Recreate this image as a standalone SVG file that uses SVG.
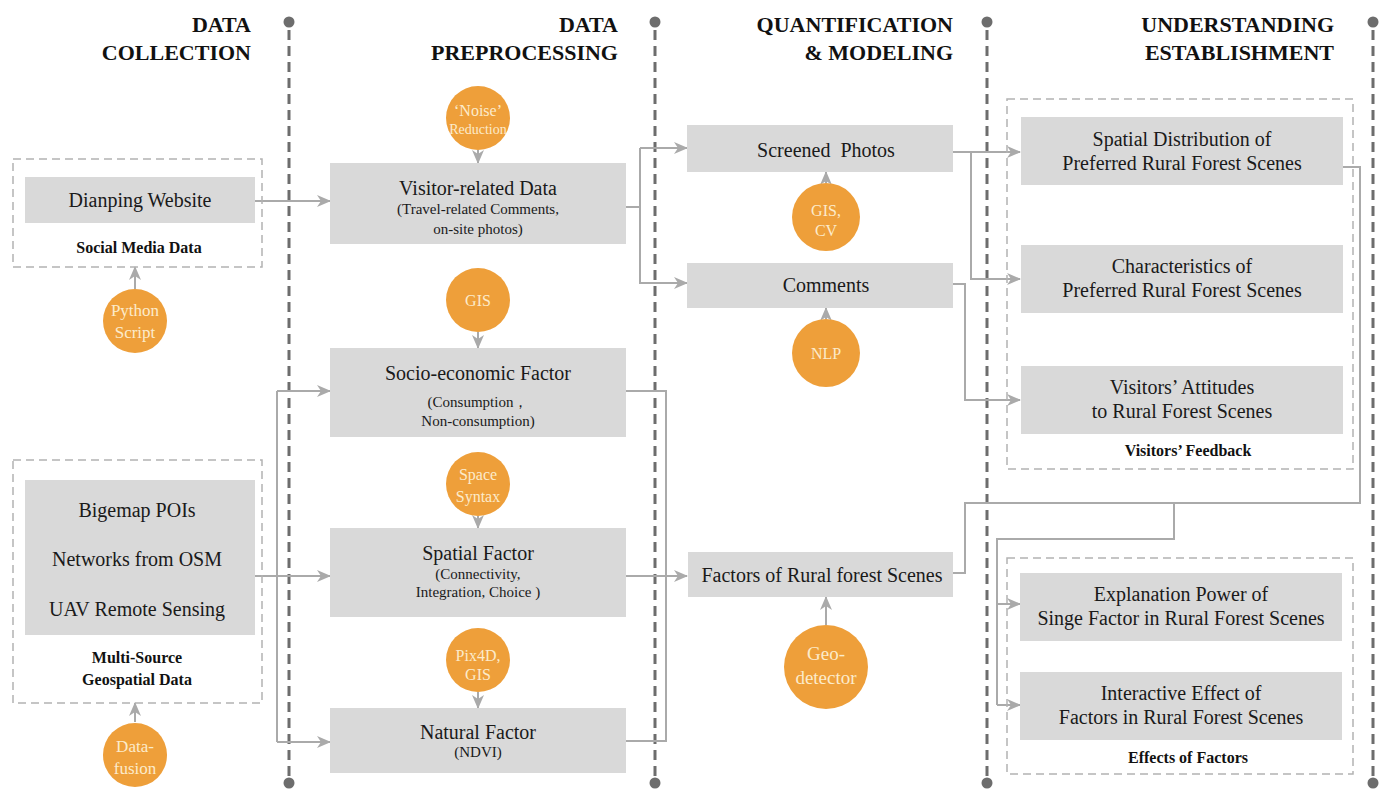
<svg xmlns="http://www.w3.org/2000/svg" width="1389" height="789" viewBox="0 0 1389 789" font-family="'Liberation Serif', 'Times New Roman', serif">
<style>
text{font-family:'Liberation Serif','Times New Roman',serif}
.hd{font-weight:bold;font-size:22px;fill:#111;text-anchor:end}
.bx{fill:#d9d9d9}
.t{font-size:20px;fill:#1a1a1a;text-anchor:middle}
.s{font-size:15px;fill:#1a1a1a;text-anchor:middle}
.b{font-size:16px;font-weight:bold;fill:#111;text-anchor:middle}
.c{fill:#EE9F3A}
.ct{font-size:16px;fill:#FCEBCB;text-anchor:middle}
.ct17{font-size:17px}
.ct14{font-size:14px}
.ct19{font-size:19px}
.grp{fill:none;stroke:#b3b3b3;stroke-width:1.5;stroke-dasharray:8 5}
.div{stroke:#6d6d6d;stroke-width:3;stroke-dasharray:10 6}
.dot{fill:#6d6d6d}
.ln{fill:none;stroke:#aaaaaa;stroke-width:2}
.ar{fill:none;stroke:#aaaaaa;stroke-width:2;marker-end:url(#ah)}
</style>
<defs>
<marker id="ah" markerUnits="userSpaceOnUse" markerWidth="14" markerHeight="12" refX="13" refY="6" orient="auto">
<path d="M0,0 L14,6 L0,12 L4,6 Z" fill="#aaaaaa"/>
</marker>
</defs>

<g id="dividers">
<line class="div" x1="289" y1="30" x2="289" y2="776"/><circle class="dot" cx="289" cy="22" r="5.5"/><circle class="dot" cx="289" cy="783" r="5.5"/>
<line class="div" x1="655" y1="30" x2="655" y2="776"/><circle class="dot" cx="655" cy="22" r="5.5"/><circle class="dot" cx="655" cy="783" r="5.5"/>
<line class="div" x1="987" y1="30" x2="987" y2="776"/><circle class="dot" cx="987" cy="22" r="5.5"/><circle class="dot" cx="987" cy="783" r="5.5"/>
<line class="div" x1="1373" y1="30" x2="1373" y2="776"/><circle class="dot" cx="1373" cy="22" r="5.5"/><circle class="dot" cx="1373" cy="783" r="5.5"/>
</g>

<g id="headers">
<text class="hd" x="251" y="32">DATA</text><text class="hd" x="251" y="60">COLLECTION</text>
<text class="hd" x="618" y="32">DATA</text><text class="hd" x="618" y="60">PREPROCESSING</text>
<text class="hd" x="953" y="32">QUANTIFICATION</text><text class="hd" x="953" y="60">&amp; MODELING</text>
<text class="hd" x="1334" y="32">UNDERSTANDING</text><text class="hd" x="1334" y="60">ESTABLISHMENT</text>
</g>

<g id="connectors">
<path class="ar" d="M255,201 L330,201"/>
<path class="ar" d="M255,576 L330,576"/>
<path class="ln" d="M277,391 L277,742"/>
<path class="ar" d="M277,391 L330,391"/>
<path class="ar" d="M277,742 L330,742"/>
<path class="ar" d="M135,289 L135,267"/>
<path class="ar" d="M135,722 L135,703"/>
<path class="ar" d="M478,150 L478,163"/>
<path class="ar" d="M478,332 L478,348"/>
<path class="ar" d="M478,516 L478,528"/>
<path class="ar" d="M478,692 L478,708"/>
<path class="ar" d="M826,183 L826,172"/>
<path class="ar" d="M826,319 L826,308"/>
<path class="ar" d="M826,625 L826,597"/>
<path class="ln" d="M626,207 L640,207"/>
<path class="ar" d="M640,148 L640,283 L687,283"/>
<path class="ar" d="M640,148 L687,148"/>
<path class="ln" d="M626,391 L666,391 L666,741 L626,741"/>
<path class="ar" d="M626,576 L687,576"/>
<path class="ar" d="M953,152 L1020,152"/>
<path class="ar" d="M971,152 L971,279 L1020,279"/>
<path class="ar" d="M953,284 L965,284 L965,400 L1020,400"/>
<path class="ln" d="M953,573 L965,573 L965,503 L1360,503 L1360,167 L1343,167"/>
<path class="ln" d="M1174,503 L1174,539 L997,539 L997,705"/>
<path class="ar" d="M997,604 L1020,604"/>
<path class="ar" d="M997,705 L1020,705"/>
</g>

<g id="social-media-group">
<rect class="grp" x="13" y="159" width="249" height="108"/>
<text class="b" x="139" y="253">Social Media Data</text>
</g>
<g id="dianping">
<rect class="bx" x="25" y="177" width="230" height="46"/>
<text class="t" x="140" y="207">Dianping Website</text>
</g>
<g id="python-script">
<circle class="c" cx="135" cy="321" r="32"/>
<text class="ct ct17" x="135" y="316">Python</text>
<text class="ct ct17" x="135" y="338">Script</text>
</g>

<g id="geospatial-group">
<rect class="grp" x="13" y="460" width="249" height="243"/>
<text class="b" x="137" y="663">Multi-Source</text>
<text class="b" x="137" y="685">Geospatial Data</text>
</g>
<g id="geospatial-sources">
<rect class="bx" x="25" y="480" width="230" height="155"/>
<text class="t" x="137" y="517">Bigemap POIs</text>
<text class="t" x="137" y="566">Networks from OSM</text>
<text class="t" x="137" y="616">UAV Remote Sensing</text>
</g>
<g id="data-fusion">
<circle class="c" cx="135" cy="755" r="32"/>
<text class="ct ct17" x="135" y="752">Data-</text>
<text class="ct ct17" x="135" y="774">fusion</text>
</g>

<g id="noise-reduction">
<circle class="c" cx="478" cy="118" r="32"/>
<text class="ct" x="478" y="116">‘Noise’</text>
<text class="ct ct14" x="478" y="134">Reduction</text>
</g>
<g id="visitor-data">
<rect class="bx" x="330" y="163" width="296" height="81"/>
<text class="t" x="478" y="195">Visitor-related Data</text>
<text class="s" x="478" y="214">(Travel-related Comments,</text>
<text class="s" x="478" y="234">on-site photos)</text>
</g>
<g id="gis-1">
<circle class="c" cx="478" cy="300" r="32"/>
<text class="ct" x="478" y="306">GIS</text>
</g>
<g id="socio-economic">
<rect class="bx" x="330" y="348" width="296" height="89"/>
<text class="t" x="478" y="380">Socio-economic Factor</text>
<text class="s" x="478" y="407">(Consumption，</text>
<text class="s" x="478" y="426">Non-consumption)</text>
</g>
<g id="space-syntax">
<circle class="c" cx="478" cy="484" r="32"/>
<text class="ct" x="478" y="480">Space</text>
<text class="ct" x="478" y="502">Syntax</text>
</g>
<g id="spatial-factor">
<rect class="bx" x="330" y="528" width="296" height="89"/>
<text class="t" x="478" y="560">Spatial Factor</text>
<text class="s" x="478" y="579">(Connectivity,</text>
<text class="s" x="478" y="597">Integration, Choice )</text>
</g>
<g id="pix4d-gis">
<circle class="c" cx="478" cy="660" r="32"/>
<text class="ct" x="478" y="661">Pix4D,</text>
<text class="ct" x="478" y="680">GIS</text>
</g>
<g id="natural-factor">
<rect class="bx" x="330" y="708" width="296" height="65"/>
<text class="t" x="478" y="739">Natural Factor</text>
<text class="s" x="478" y="757">(NDVI)</text>
</g>

<g id="screened-photos">
<rect class="bx" x="687" y="125" width="266" height="47"/>
<text class="t" x="826" y="157" xml:space="preserve">Screened  Photos</text>
</g>
<g id="gis-cv">
<circle class="c" cx="826" cy="217" r="34"/>
<text class="ct" x="826" y="216">GIS,</text>
<text class="ct" x="826" y="236">CV</text>
</g>
<g id="comments">
<rect class="bx" x="687" y="263" width="266" height="45"/>
<text class="t" x="826" y="292">Comments</text>
</g>
<g id="nlp">
<circle class="c" cx="826" cy="353" r="34"/>
<text class="ct" x="826" y="359">NLP</text>
</g>
<g id="factors-scenes">
<rect class="bx" x="688" y="552" width="265" height="45"/>
<text class="t" x="822" y="582">Factors of Rural forest Scenes</text>
</g>
<g id="geo-detector">
<circle class="c" cx="826" cy="667" r="42"/>
<text class="ct ct19" x="826" y="660">Geo-</text>
<text class="ct ct19" x="826" y="684">detector</text>
</g>

<g id="visitors-feedback-group">
<rect class="grp" x="1007" y="99" width="346" height="370"/>
<text class="b" x="1188" y="456">Visitors’ Feedback</text>
</g>
<g id="spatial-distribution">
<rect class="bx" x="1021" y="117" width="322" height="68"/>
<text class="t" x="1182" y="146">Spatial Distribution of</text>
<text class="t" x="1182" y="170">Preferred Rural Forest Scenes</text>
</g>
<g id="characteristics">
<rect class="bx" x="1021" y="245" width="322" height="68"/>
<text class="t" x="1182" y="273">Characteristics of</text>
<text class="t" x="1182" y="297">Preferred Rural Forest Scenes</text>
</g>
<g id="visitors-attitudes">
<rect class="bx" x="1021" y="366" width="322" height="68"/>
<text class="t" x="1182" y="394">Visitors’ Attitudes</text>
<text class="t" x="1182" y="418">to Rural Forest Scenes</text>
</g>

<g id="effects-group">
<rect class="grp" x="1007" y="558" width="346" height="216"/>
<text class="b" x="1188" y="763">Effects of Factors</text>
</g>
<g id="explanation-power">
<rect class="bx" x="1020" y="573" width="322" height="68"/>
<text class="t" x="1181" y="601">Explanation Power of</text>
<text class="t" x="1181" y="625">Singe Factor in Rural Forest Scenes</text>
</g>
<g id="interactive-effect">
<rect class="bx" x="1020" y="672" width="322" height="68"/>
<text class="t" x="1181" y="700">Interactive Effect of</text>
<text class="t" x="1181" y="724">Factors in Rural Forest Scenes</text>
</g>
</svg>
